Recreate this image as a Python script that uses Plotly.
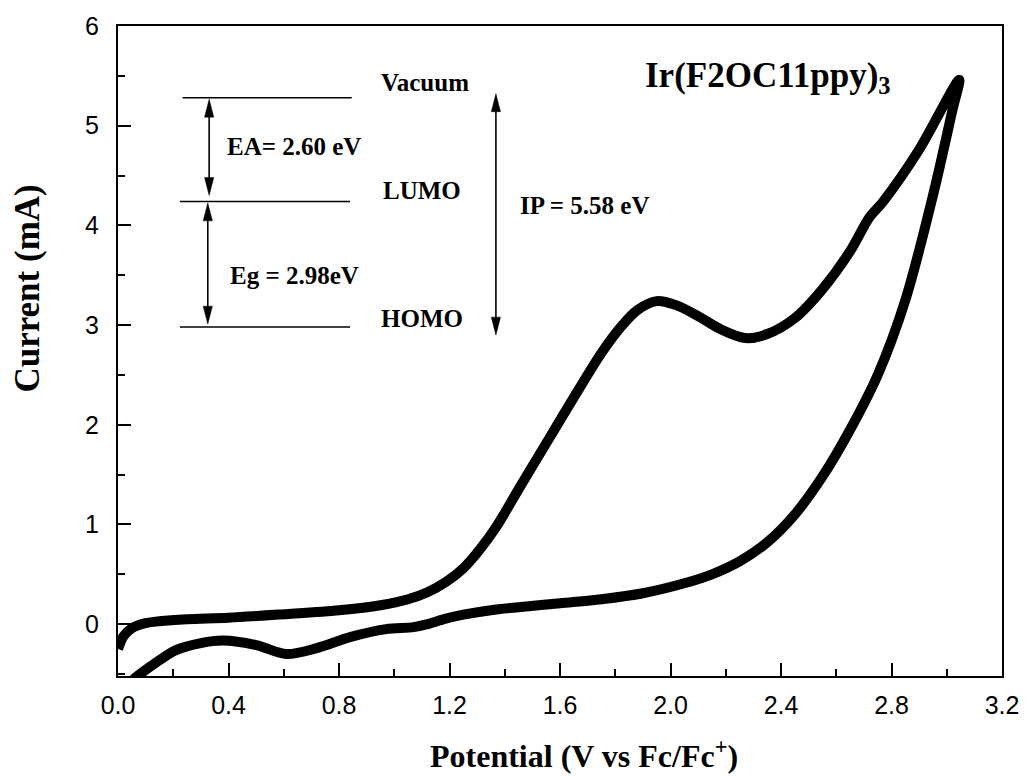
import plotly.graph_objects as go

# ---- data: cyclic voltammogram of Ir(F2OC11ppy)3 ----
potential_fwd = [0.0, 0.02, 0.05, 0.10, 0.15, 0.25, 0.40, 0.60, 0.80, 0.95, 1.05, 1.12, 1.19,
                 1.25, 1.31, 1.37, 1.46, 1.56, 1.66, 1.75, 1.82, 1.88, 1.95, 2.02, 2.10, 2.18,
                 2.27, 2.35, 2.45, 2.55, 2.65, 2.72, 2.77, 2.90, 3.045]
current_fwd = [-0.25, -0.12, -0.04, 0.01, 0.03, 0.05, 0.065, 0.10, 0.14, 0.19, 0.25, 0.32, 0.43,
               0.56, 0.75, 0.98, 1.40, 1.86, 2.32, 2.72, 2.98, 3.15, 3.24, 3.20, 3.09, 2.96,
               2.87, 2.91, 3.07, 3.36, 3.74, 4.08, 4.24, 4.76, 5.46]
potential_rev = [3.02, 2.95, 2.85, 2.75, 2.65, 2.55, 2.45, 2.35, 2.25, 2.15, 2.05, 1.90, 1.75,
                 1.60, 1.45, 1.35, 1.25, 1.18, 1.12, 1.07, 0.97, 0.84, 0.72, 0.61, 0.50,
                 0.38, 0.30, 0.21, 0.14, 0.08, 0.0]
current_rev = [5.15, 4.30, 3.25, 2.50, 1.95, 1.48, 1.10, 0.82, 0.63, 0.50, 0.41, 0.31, 0.25,
               0.21, 0.17, 0.14, 0.095, 0.05, 0.0, -0.03, -0.05, -0.13, -0.24, -0.30, -0.21,
               -0.165, -0.19, -0.26, -0.38, -0.50, -0.68]

x_ticks = [0.0, 0.4, 0.8, 1.2, 1.6, 2.0, 2.4, 2.8, 3.2]
y_ticks = [0, 1, 2, 3, 4, 5, 6]

# energy-level diagram (drawn on the y scale)
level_names = ["Vacuum", "LUMO", "HOMO"]
level_values = [5.28, 4.24, 2.98]
level_x_start = [0.234, 0.224, 0.224]
level_x_end = [0.846, 0.840, 0.840]

arrow_x = [0.33, 0.325, 1.368]
arrow_top = [5.265, 4.225, 5.32]
arrow_bottom = [4.30, 3.01, 2.90]

label_texts = ["Vacuum", "LUMO", "HOMO", "EA= 2.60 eV", "Eg = 2.98eV", "IP = 5.58 eV"]
label_x = [1.111, 1.100, 1.100, 0.637, 0.640, 1.691]
label_y = [5.43, 4.35, 3.07, 4.79, 3.50, 4.20]

compound = "Ir(F2OC11ppy)<sub>3</sub>"
compound_x, compound_y = 2.353, 5.48

X_RANGE = [0.0, 3.2]
Y_RANGE = [-0.52, 6.0]

W, H = 1032, 776
M = dict(l=118, r=30, t=22, b=100)
px_x = (X_RANGE[1] - X_RANGE[0]) / (W - M["l"] - M["r"])
px_y = (Y_RANGE[1] - Y_RANGE[0]) / (H - M["t"] - M["b"])

serif = "Liberation Serif, Times New Roman, serif"
sans = "Liberation Sans, Arial, sans-serif"

fig = go.Figure()
fig.add_trace(go.Scatter(
    x=potential_fwd + potential_rev,
    y=current_fwd + current_rev,
    mode="lines",
    line=dict(color="black", width=10, shape="spline", smoothing=0.9),
    showlegend=False,
    hoverinfo="skip",
))

shapes = []
for xs, xe, v in zip(level_x_start, level_x_end, level_values):
    shapes.append(dict(type="line", xref="x", yref="y", x0=xs, x1=xe, y0=v, y1=v,
                       line=dict(color="black", width=1.5)))

HL, HW = 18 * px_y, 4.6 * px_x
for ax_, top, bot in zip(arrow_x, arrow_top, arrow_bottom):
    shapes.append(dict(type="line", xref="x", yref="y", x0=ax_, x1=ax_,
                       y0=bot + HL * 0.5, y1=top - HL * 0.5,
                       line=dict(color="black", width=1.6)))
    shapes.append(dict(type="path", xref="x", yref="y",
                       path=f"M {ax_},{top} L {ax_-HW},{top-HL} L {ax_+HW},{top-HL} Z",
                       fillcolor="black", line=dict(color="black", width=0.5)))
    shapes.append(dict(type="path", xref="x", yref="y",
                       path=f"M {ax_},{bot} L {ax_-HW},{bot+HL} L {ax_+HW},{bot+HL} Z",
                       fillcolor="black", line=dict(color="black", width=0.5)))

annotations = []
for t, x, y in zip(label_texts, label_x, label_y):
    annotations.append(dict(text=t, x=x, y=y, xref="x", yref="y", showarrow=False,
                            xanchor="center", yanchor="middle",
                            font=dict(family=serif, size=25, color="black", weight="bold")))
annotations.append(dict(text=compound, x=compound_x, y=compound_y, xref="x", yref="y",
                        showarrow=False, xanchor="center", yanchor="middle",
                        font=dict(family=serif, size=35, color="black", weight="bold")))
annotations.append(dict(text="Potential (V vs Fc/Fc<sup>+</sup>)", x=0.5, y=0,
                        xref="paper", yref="paper", showarrow=False,
                        xanchor="center", yanchor="top", yshift=-56, xshift=24,
                        font=dict(family=serif, size=32, color="black", weight="bold")))
annotations.append(dict(text="Current (mA)", x=0, y=0.596, xref="paper", yref="paper",
                        showarrow=False, textangle=-90, xanchor="center", yanchor="middle",
                        xshift=-90,
                        font=dict(family=serif, size=35, color="black", weight="bold")))

axis_common = dict(showgrid=False, zeroline=False, showline=True, linecolor="black",
                   linewidth=2, mirror=True, ticks="inside", tickcolor="black",
                   tickwidth=2, ticklen=13,
                   tickfont=dict(family=sans, size=25, color="black"))

fig.update_layout(
    width=W, height=H, margin=M,
    paper_bgcolor="white", plot_bgcolor="white",
    shapes=shapes, annotations=annotations,
    xaxis=dict(range=X_RANGE, tickvals=x_ticks, ticktext=[f"{v:.1f}" for v in x_ticks],
               minor=dict(ticks="inside", ticklen=7, tickwidth=2, tickcolor="black", dtick=0.2,
                          tick0=0),
               ticklabelstandoff=6, **axis_common),
    yaxis=dict(range=Y_RANGE, tickvals=y_ticks, ticktext=[str(v) for v in y_ticks],
               minor=dict(ticks="inside", ticklen=7, tickwidth=2, tickcolor="black", dtick=0.5,
                          tick0=0),
               ticklabelstandoff=12, **axis_common),
)

fig.write_html("out.html")
